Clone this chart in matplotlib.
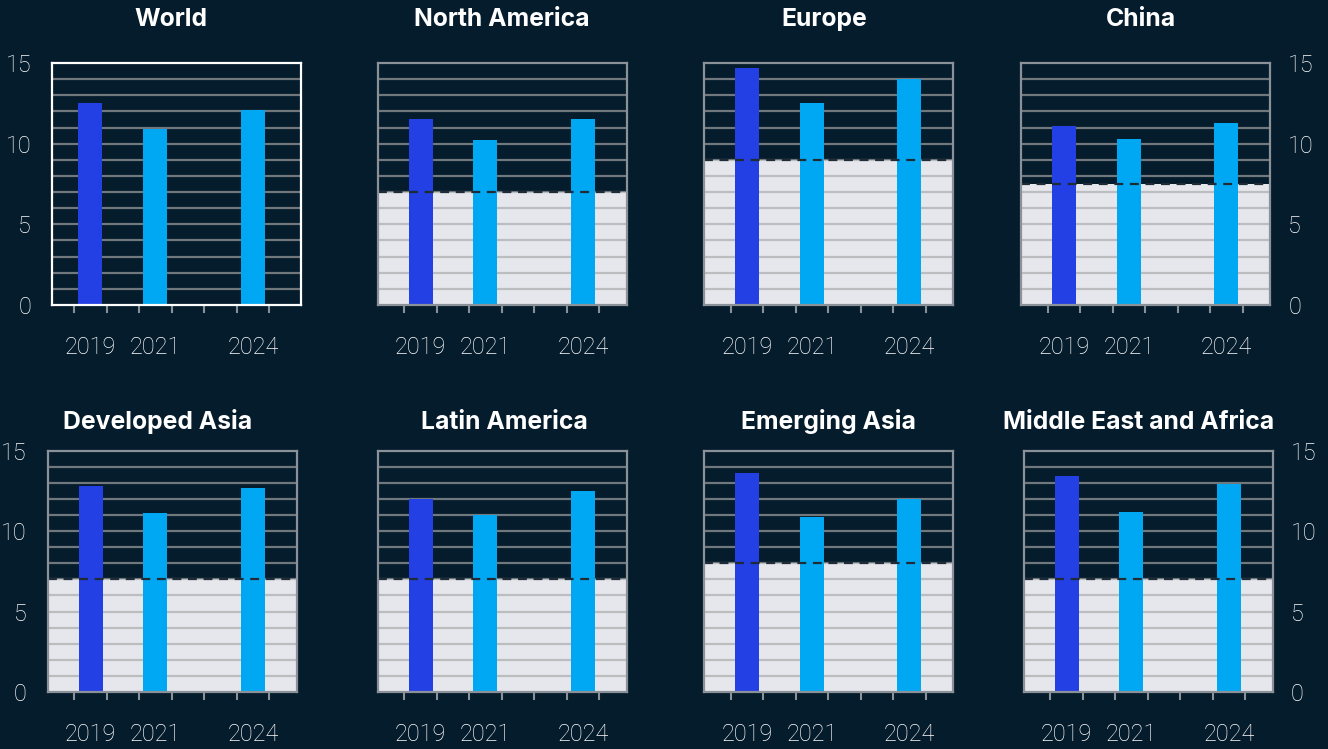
import numpy as np
import matplotlib
matplotlib.use("Agg")
import matplotlib.pyplot as plt

# ---------------------------------------------------------
# Data
# ---------------------------------------------------------
regions = ["World", "North America", "Europe", "China",
           "Developed Asia", "Latin America", "Emerging Asia",
           "Middle East and Africa"]
years = [2019, 2021, 2024]
v2019 = [12.5, 11.5, 14.7, 11.1, 12.8, 12.0, 13.6, 13.4]
v2021 = [10.9, 10.2, 12.5, 10.3, 11.1, 11.0, 10.9, 11.2]
v2024 = [12.1, 11.5, 14.0, 11.3, 12.7, 12.5, 12.0, 12.9]
# shaded benchmark level (None = no band)
threshold = [None, 7.0, 9.0, 7.5, 7.0, 7.0, 8.0, 7.0]

# ---------------------------------------------------------
# Style / layout
# ---------------------------------------------------------
BG = "#051c2c"
DARK_BLUE = "#2240e3"
CYAN = "#00a8f3"
BAND = "#e5e7ec"
SPINE = "#8b9198"
GRID_RGB = (0.66, 0.66, 0.66)

plt.rcParams["font.family"] = ["Roboto", "DejaVu Sans"]

W, H = 1328, 749
fig = plt.figure(figsize=(W / 100, H / 100), dpi=100, facecolor=BG)

# axes boxes in pixels: left, top, bottom
lefts = [52, 377.7, 704.3, 1021.3, 47.7, 377.7, 704.3, 1023.7]
tops = [63] * 4 + [450.7] * 4
bottoms = [305] * 4 + [692] * 4
box_w = 249
title_pads = [26.5] * 4 + [15.8] * 4
title_shift = [-6, 0, -5, -5, -15, 2, 0, -10]   # px, horizontal title nudge
xlims = [(2017.82, 2025.48)] + [(2017.68, 2025.35)] * 7

for i, name in enumerate(regions):
    x0, top, bot = lefts[i], tops[i], bottoms[i]
    ax = fig.add_axes([x0 / W, (H - bot) / H, box_w / W, (bot - top) / H])
    ax.set_facecolor(BG)
    ax.set_xlim(*xlims[i])
    ax.set_ylim(0, 15)

    # shaded band + dashed line
    if threshold[i] is not None:
        ax.axhspan(0, threshold[i], color=BAND, zorder=0, lw=0)
        ax.axhline(threshold[i], color="#1f2b36", lw=1.6, ls=(0, (4, 3)), zorder=4)

    # horizontal grid at every unit
    ax.hlines(np.arange(1, 15), *xlims[i], colors=[GRID_RGB], alpha=0.66,
              lw=1.6, zorder=1)

    vals = [v2019[i], v2021[i], v2024[i]]
    ax.bar(years, vals, width=0.74, color=[DARK_BLUE, CYAN, CYAN], zorder=3)

    spine_col = "white" if i == 0 else SPINE
    for s in ax.spines.values():
        s.set_color(spine_col)
        s.set_linewidth(1.6)
        s.set_zorder(5)

    # x ticks: marks at half years, labels at data years
    ax.set_xticks(years)
    ax.set_xticklabels([str(y) for y in years])
    ax.set_xticks(np.arange(2018.5, 2025, 1.0), minor=True)
    ax.tick_params(axis="x", which="major", length=0, pad=22.5,
                   labelsize=16.8, labelcolor="white")
    ax.tick_params(axis="x", which="minor", length=6, width=1.5,
                   color=SPINE, direction="out")
    for lab in ax.get_xticklabels():
        lab.set_fontweight("light")

    # y ticks only on outer panels
    ax.set_yticks([0, 5, 10, 15])
    if i in (0, 4):
        ax.tick_params(axis="y", length=0, pad=15, labelsize=16.8,
                       labelcolor="white", left=True, labelleft=True)
    elif i in (3, 7):
        ax.tick_params(axis="y", length=0, pad=13, labelsize=16.8,
                       labelcolor="white", left=False, labelleft=False,
                       right=True, labelright=True)
    else:
        ax.tick_params(axis="y", length=0, labelleft=False)
    for lab in ax.get_yticklabels():
        lab.set_fontweight("light")

    t = ax.set_title(name, color="white", fontsize=17.8, fontweight="bold",
                     pad=title_pads[i], family=["Inter", "DejaVu Sans"])
    t.set_x(0.5 + title_shift[i] / box_w)

fig.savefig("out.png", dpi=100, facecolor=BG)
